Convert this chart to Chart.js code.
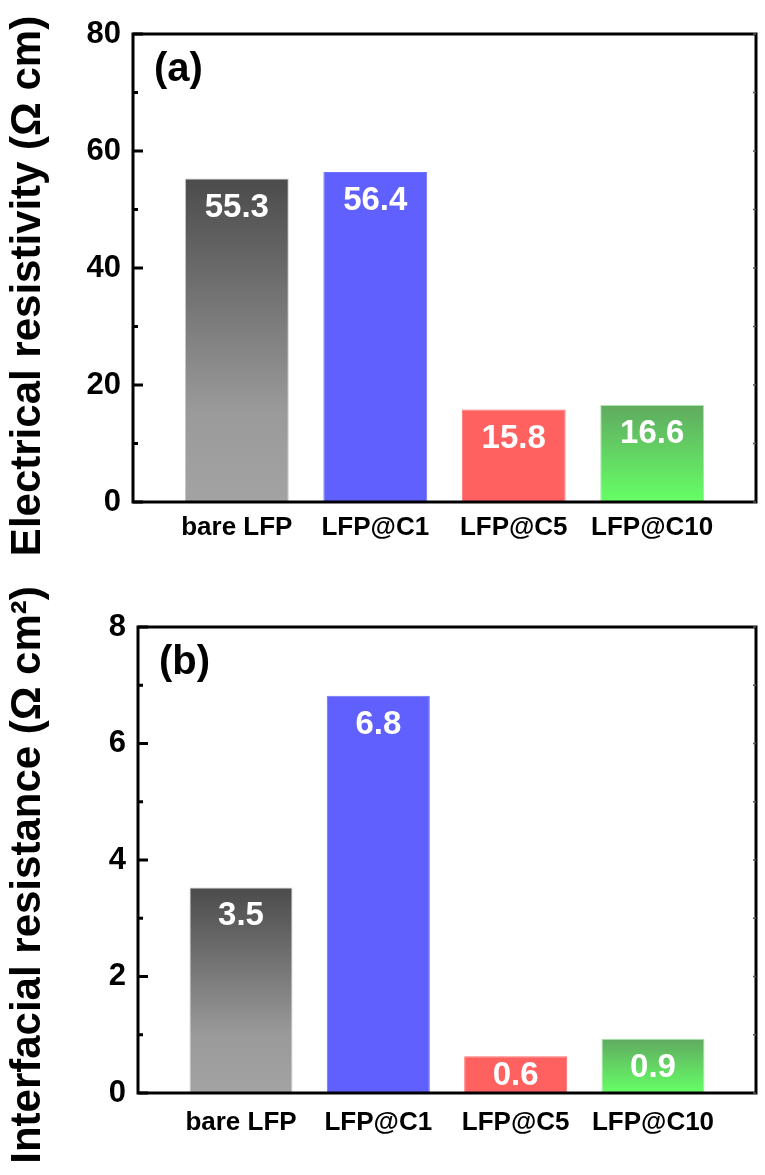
<!DOCTYPE html>
<html>
<head>
<meta charset="utf-8">
<script src="https://cdn.jsdelivr.net/npm/chart.js@4"></script>
<style>
  html, body { margin: 0; padding: 0; background: #fff; }
  #wrap { position: relative; width: 765px; height: 1175px; }
  .panel { position: absolute; left: 0; width: 765px; }
</style>
</head>
<body>
<div id="wrap">
  <div class="panel" style="top:0;height:580px"><canvas id="chartA"></canvas></div>
  <div class="panel" style="top:575px;height:600px"><canvas id="chartB"></canvas></div>
</div>
<script>
// data
const categories = ['bare LFP', 'LFP@C1', 'LFP@C5', 'LFP@C10'];
const resistivity = [55.3, 56.4, 15.8, 16.6];
const interfacial = [3.53, 6.82, 0.63, 0.93];
const ticksA = [0, 20, 40, 60, 80];
const ticksB = [0, 2, 4, 6, 8];
const titleA = 'Electrical resistivity (Ω cm)';
const titleB = 'Interfacial resistance (Ω cm²)';

const FONT = '"Liberation Sans", Arial, sans-serif';
const solid = ['#7a7a7a', '#6060ff', '#ff6060', '#66e066'];
const edges = ['#c6c6c6', '#7070ff', '#ff7070', '#a8e8a8'];

// gradient fills for the grey and green bars, solid for the others
function barFill(ctx) {
  const chart = ctx.chart;
  const y = chart.scales && chart.scales.y;
  const i = ctx.dataIndex;
  if (!chart.chartArea || !y || !ctx.raw) return solid[i];
  const top = y.getPixelForValue(ctx.raw.y);
  const base = y.getPixelForValue(0);
  if (i === 0) {
    const g = chart.ctx.createLinearGradient(0, top, 0, base);
    g.addColorStop(0, '#4b4b4b');
    g.addColorStop(0.72, '#9a9a9a');
    g.addColorStop(1, '#a3a3a3');
    return g;
  }
  if (i === 3) {
    const g = chart.ctx.createLinearGradient(0, top, 0, base);
    g.addColorStop(0, '#60aa60');
    g.addColorStop(1, '#66ff66');
    return g;
  }
  return solid[i];
}

const decor = {
  id: 'decor',
  afterDatasetsDraw(chart) {
    const c = chart.ctx;
    const meta = chart.getDatasetMeta(0);
    const base = chart.scales.y.getPixelForValue(0);
    c.save();
    c.fillStyle = '#fff';
    c.font = 'bold 33px ' + FONT;
    c.textAlign = 'center';
    c.textBaseline = 'middle';
    meta.data.forEach((bar, i) => {
      const v = chart.data.datasets[0].data[i].y;
      c.fillText(v.toFixed(1), bar.x, Math.min(bar.y + 29, base - 17));
    });
    c.restore();
  },
  afterDraw(chart, args, opts) {
    const c = chart.ctx;
    const a = chart.chartArea;
    const y = chart.scales.y;
    c.save();
    // frame
    c.strokeStyle = '#000';
    c.lineWidth = 3;
    c.strokeRect(a.left, a.top, a.right - a.left, a.bottom - a.top);
    // inward ticks on left axis, tiny ones on right
    const vals = y.ticks.map(t => t.value);
    c.beginPath();
    vals.forEach((v, k) => {
      const p = y.getPixelForValue(v);
      c.moveTo(a.left, p); c.lineTo(a.left + 10, p);
      if (k < vals.length - 1) {
        const m = y.getPixelForValue((v + vals[k + 1]) / 2);
        c.moveTo(a.left, m); c.lineTo(a.left + 5, m);
      }
    });
    c.stroke();
    c.lineWidth = 1.5;
    c.strokeStyle = '#555';
    c.beginPath();
    vals.forEach((v, k) => {
      const p = y.getPixelForValue(v);
      c.moveTo(a.right, p); c.lineTo(a.right - 3, p);
      if (k < vals.length - 1) {
        const m = y.getPixelForValue((v + vals[k + 1]) / 2);
        c.moveTo(a.right, m); c.lineTo(a.right - 3, m);
      }
    });
    c.stroke();
    // panel letter
    c.fillStyle = '#000';
    c.font = 'bold 40px ' + FONT;
    c.textAlign = 'left';
    c.textBaseline = 'middle';
    c.fillText(opts.letter, a.left + 21, a.top + 36);
    // rotated axis title
    c.font = 'bold 42px ' + FONT;
    c.textAlign = 'center';
    c.translate(28, opts.titleY);
    c.rotate(-Math.PI / 2);
    c.fillText(opts.title, 0, 0);
    c.restore();
  }
};

function makePanel(id, values, yTicks, pad, axisW, axisH, xPad, letter, title, titleY) {
  return new Chart(document.getElementById(id), {
    type: 'bar',
    data: {
      datasets: [{
        data: values.map((v, i) => ({ x: i + 1, y: v })),
        backgroundColor: barFill,
        borderColor: edges,
        borderWidth: 1,
        barPercentage: 0.75,
        categoryPercentage: 1
      }]
    },
    plugins: [decor],
    options: {
      responsive: true,
      maintainAspectRatio: false,
      animation: false,
      layout: { padding: pad },
      plugins: {
        legend: { display: false },
        tooltip: { enabled: false },
        decor: { letter: letter, title: title, titleY: titleY }
      },
      scales: {
        x: {
          type: 'linear',
          offset: false,
          min: 0.25,
          max: 4.75,
          afterBuildTicks: s => { s.ticks = categories.map((_, i) => ({ value: i + 1 })); },
          afterFit: s => { s.height = axisH; },
          grid: { display: false, drawTicks: false },
          border: { display: false },
          ticks: {
            callback: v => categories[v - 1],
            color: '#000',
            font: { family: FONT, size: 26, weight: 'bold' },
            padding: xPad,
            maxRotation: 0,
            autoSkip: false
          }
        },
        y: {
          min: yTicks[0],
          max: yTicks[yTicks.length - 1],
          afterBuildTicks: s => { s.ticks = yTicks.map(v => ({ value: v })); },
          afterFit: s => { s.width = axisW; },
          grid: { display: false, drawTicks: false },
          border: { display: false },
          ticks: {
            color: '#000',
            font: { family: FONT, size: 31, weight: 'bold' },
            padding: 12
          }
        }
      }
    }
  });
}

makePanel('chartA', resistivity, ticksA, { top: 34, right: 9, left: 0, bottom: 0 }, 133, 78, 10, '(a)', titleA, 286);
makePanel('chartB', interfacial, ticksB, { top: 52, right: 9, left: 0, bottom: 0 }, 138, 82, 14, '(b)', titleB, 300);
</script>
</body>
</html>
